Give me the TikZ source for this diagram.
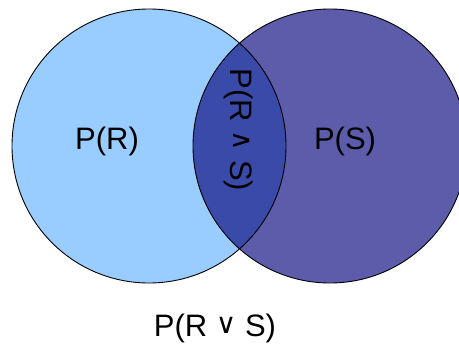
\documentclass[tikz,border=0pt]{standalone}
\usepackage{fontspec}
\setmainfont{Liberation Sans}
\newfontfamily\symfont{DejaVu Sans}
\definecolor{lightR}{HTML}{99CCFF}
\definecolor{darkS}{HTML}{5C5CAA}
\definecolor{both}{HTML}{3A4AA8}
\newcommand{\smallop}[1]{\raisebox{2.5pt}{\symfont\fontsize{28}{32}\selectfont #1}}
\begin{document}
\begin{tikzpicture}[x=1pt,y=-1pt,
  lab/.style={font=\fontsize{31}{36}\selectfont, inner sep=0pt},
  ring/.style={draw=black, line width=0.9pt}]
\useasboundingbox (0,0) rectangle (459,349);
\coordinate (cR) at (149,146);
\coordinate (cS) at (330,146);
\fill[lightR] (cR) circle[radius=137];
\fill[darkS] (cS) circle[radius=137];
\begin{scope}
  \clip (cR) circle[radius=137];
  \fill[both] (cS) circle[radius=137];
\end{scope}
\draw[ring] (cR) circle[radius=137];
\draw[ring] (cS) circle[radius=137];
\node[lab] (pr) at (107,141) {P(R)};
\node[lab] (ps) at (345,141) {P(S)};
\node[lab, rotate=-90] (prs) at (239,130) {P(R \smallop{∧} S)};
\node[lab] (prvs) at (215,328) {P(R \smallop{∨} S)};
\end{tikzpicture}
\end{document}
